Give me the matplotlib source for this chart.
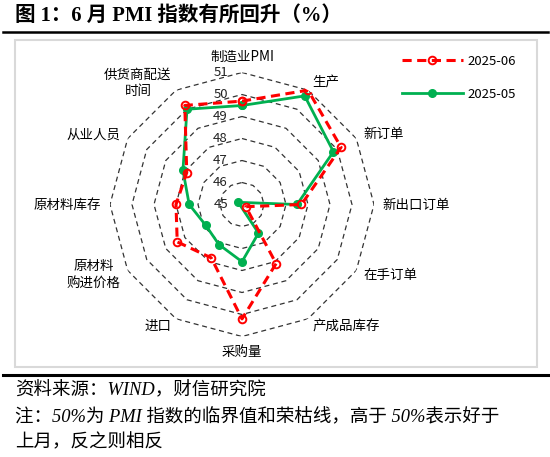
import numpy as np
import matplotlib
matplotlib.use("Agg")
import matplotlib.pyplot as plt
from matplotlib.patches import Rectangle
from matplotlib.lines import Line2D

plt.rcParams['font.family'] = ['Noto Sans CJK SC', 'DejaVu Sans']

categories = ['制造业PMI', '生产', '新订单', '新出口订单', '在手订单', '产成品库存',
              '采购量', '进口', '原材料\n购进价格', '原材料库存', '从业人员', '供货商配送\n时间']
jun_2025 = [49.7, 51.0, 50.2, 47.7, 45.2, 48.1, 50.2, 47.8, 48.4, 48.0, 47.9, 50.2]
may_2025 = [49.5, 50.7, 49.8, 47.5, 44.8, 46.5, 47.6, 47.1, 46.9, 47.4, 48.1, 50.0]
ring_ticks = [45, 46, 47, 48, 49, 50, 51]
series_names = ['2025-06', '2025-05']

RMIN, RMAX = 45, 51

fig = plt.figure(figsize=(5.5, 4.57), dpi=100)
W, H = 550, 457

# frame elements
fig.add_artist(Line2D([3 / W, 548 / W], [1 - 32 / H, 1 - 32 / H], color='black', lw=1.8))
fig.add_artist(Line2D([3 / W, 548 / W], [1 - 375 / H, 1 - 375 / H], color='black', lw=2.2))
fig.add_artist(Rectangle((15 / W, 1 - 367 / H), 522 / W, 327 / H, fill=False,
                         edgecolor='#D9D9D9', lw=1.5))

fig.text(15 / W, 1 - 16 / H, '图 1：6 月 PMI 指数有所回升（%）',
         family=['Liberation Serif', 'Noto Sans CJK SC'], weight='bold',
         fontsize=14.8, ha='left', va='center')
foot = dict(family=['Liberation Serif', 'Noto Sans CJK SC'], style='italic',
            fontsize=13.3, ha='left', va='center')
fig.text(15 / W, 1 - 391 / H, '资料来源：WIND，财信研究院', **foot)
fig.text(15 / W, 1 - 418 / H, '注：50%为 PMI 指数的临界值和荣枯线，高于 50%表示好于', **foot)
fig.text(15 / W, 1 - 443 / H, '上月，反之则相反', **foot)

cx, cy, R = 242, 204.5, 132
ax = fig.add_axes([(cx - R) / W, (H - cy - R) / H, 2 * R / W, 2 * R / H], projection='polar')
ax.set_theta_zero_location('N')
ax.set_theta_direction(-1)
ax.set_ylim(RMIN, RMAX)
ax.grid(False)
ax.set_xticks([])
ax.set_yticks([])
ax.spines['polar'].set_visible(False)
ax.patch.set_visible(False)

n = len(categories)
angles = np.arange(n) * 2 * np.pi / n
closed = np.append(angles, angles[0])

for r in ring_ticks[1:]:
    ax.plot(closed, [r] * (n + 1), color='#333333', lw=0.9, ls=(0, (4, 3)), zorder=1)

for r in ring_ticks:
    ax.annotate(str(r), xy=(0, r), xytext=(-14, 0), textcoords='offset pixels',
                ha='right', va='center', fontsize=9.5, color='#222222', zorder=2)


def to_polar(vals):
    th, rr = [], []
    for a, v in zip(angles, vals):
        if v < RMIN:
            th.append(a + np.pi)
            rr.append(RMIN + (RMIN - v))
        else:
            th.append(a)
            rr.append(v)
    return np.append(th, th[0]), np.append(rr, rr[0])


t2, r2 = to_polar(may_2025)
ax.plot(t2, r2, color='#00B050', lw=2.0, marker='o', ms=5.5, mfc='#00B050',
        mec='#00B050', zorder=3, label=series_names[1])
t1, r1 = to_polar(jun_2025)
ax.plot(t1, r1, color='#FF0000', lw=2.2, ls=(0, (3, 1.8)), marker='o', ms=5.5,
        mfc='none', mec='#FF0000', mew=1.4, zorder=4, label=series_names[0])

label_r = RMIN + (R + 8.5) / R * (RMAX - RMIN)
for a, lab in zip(angles, categories):
    s = np.sin(a)
    c = np.cos(a)
    if abs(s) < 1e-6:
        ha = 'center'
        va = 'bottom' if c > 0 else 'top'
    else:
        ha = 'left' if s > 0 else 'right'
        va = 'center'
    ax.text(a, label_r, lab, ha=ha, va=va, fontsize=9.7, multialignment='center',
            color='black', linespacing=1.25)

handles = [Line2D([0], [0], color='#FF0000', lw=2.2, ls=(0, (3, 1.8)), marker='o', ms=5.5,
                  mfc='none', mec='#FF0000', mew=1.4),
           Line2D([0], [0], color='#00B050', lw=2.0, marker='o', ms=5.5, mfc='#00B050',
                  mec='#00B050')]
fig.legend(handles, series_names, loc='center left', bbox_to_anchor=(390 / W, 1 - 78 / H),
           frameon=False, fontsize=9.5, handlelength=4.6, labelspacing=1.5,
           handletextpad=0.4)

fig.savefig('out.png', dpi=100)
